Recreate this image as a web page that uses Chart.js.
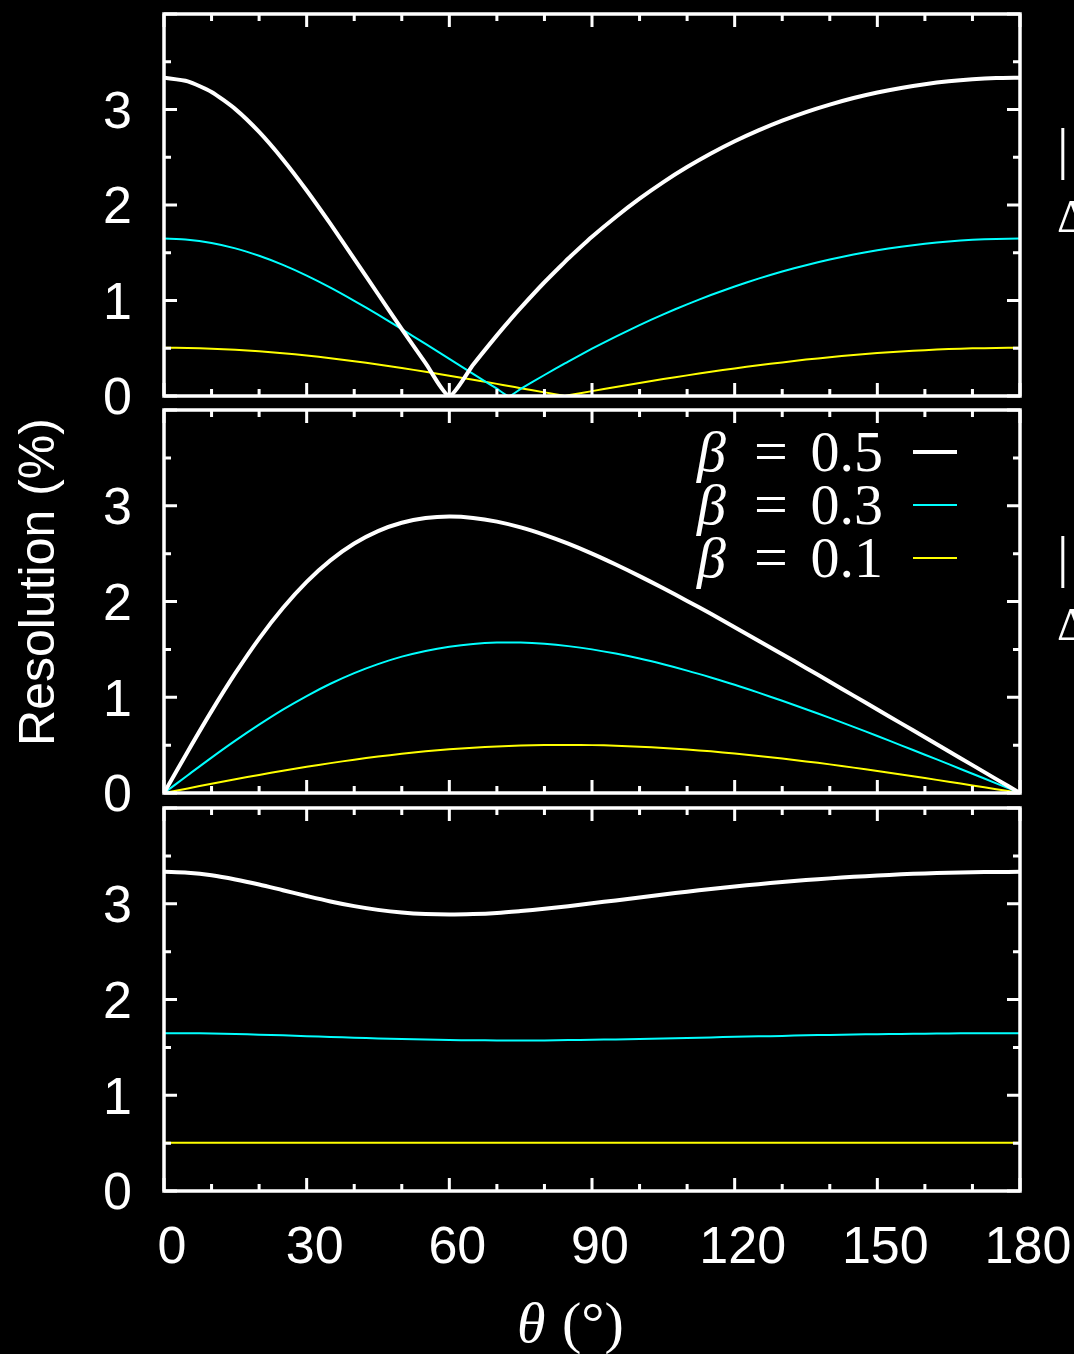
<!DOCTYPE html>
<html>
<head>
<meta charset="utf-8">
<script src="https://cdn.jsdelivr.net/npm/chart.js@4.4.1/dist/chart.umd.min.js"></script>
<style>
html, body { margin: 0; padding: 0; background: #000; }
#wrap { position: relative; width: 1074px; height: 1354px; overflow: hidden; background: #000; }
#wrap canvas { position: absolute; left: 0; top: 0; }
</style>
</head>
<body>
<div id="wrap">
  <canvas id="c1" width="1074" height="1354"></canvas>
  <canvas id="c2" width="1074" height="1354"></canvas>
  <canvas id="c3" width="1074" height="1354"></canvas>
</div>
<script>
// theta (deg); top panel has extra points where the curves touch zero
var thetaTop = [0,5,10,15,20,25,30,35,40,45,50,55,60,65,70,72.5,75,80,84.3,85,90,
    95,100,105,110,115,120,125,130,135,140,145,150,155,160,165,170,175,180];
var theta = [0,5,10,15,20,25,30,35,40,45,50,55,60,65,70,75,80,85,90,
    95,100,105,110,115,120,125,130,135,140,145,150,155,160,165,170,175,180];

var betaLabels = ['0.5', '0.3', '0.1'];
var yTickLabels = [0, 1, 2, 3];

// top panel
var top05 = [3.333,3.295,3.184,3.004,2.765,2.477,2.152,1.802,1.437,1.068,0.701,0.344,0,0.327,0.635,0.782,0.923,1.191,1.405,1.439,1.667,
    1.875,2.066,2.240,2.397,2.539,2.667,2.781,2.883,2.973,3.051,3.120,3.178,3.226,3.265,3.295,3.316,3.329,3.333];
var top03 = [1.648,1.637,1.602,1.546,1.468,1.373,1.261,1.135,0.997,0.852,0.700,0.545,0.388,0.231,0.077,0,0.074,0.220,0.341,0.360,0.495,
    0.622,0.742,0.855,0.960,1.057,1.147,1.229,1.303,1.370,1.429,1.481,1.526,1.563,1.594,1.618,1.635,1.645,1.648];
var top01 = [0.505,0.503,0.496,0.484,0.468,0.448,0.424,0.396,0.364,0.330,0.293,0.254,0.213,0.170,0.127,0.105,0.082,0.038,0,0.007,0.051,
    0.094,0.136,0.177,0.216,0.253,0.289,0.322,0.352,0.381,0.406,0.429,0.449,0.466,0.480,0.491,0.499,0.503,0.505];

// middle panel
var mid05 = [0,0.434,0.855,1.251,1.613,1.932,2.205,2.429,2.605,2.735,2.822,2.871,2.887,2.873,2.834,2.774,2.696,2.604,2.500,
    2.386,2.265,2.138,2.006,1.871,1.732,1.591,1.449,1.306,1.162,1.017,0.872,0.727,0.582,0.436,0.291,0.145,0];
var mid03 = [0,0.186,0.370,0.547,0.714,0.871,1.013,1.141,1.252,1.346,1.424,1.484,1.528,1.557,1.571,1.571,1.558,1.534,1.500,
    1.456,1.404,1.344,1.278,1.206,1.130,1.048,0.963,0.875,0.784,0.691,0.595,0.498,0.400,0.301,0.201,0.101,0];
var mid01 = [0,0.048,0.096,0.143,0.189,0.232,0.274,0.312,0.348,0.380,0.409,0.435,0.456,0.473,0.486,0.496,0.501,0.502,0.500,
    0.494,0.484,0.471,0.454,0.435,0.412,0.387,0.360,0.330,0.299,0.265,0.230,0.194,0.156,0.118,0.079,0.040,0];

// bottom panel
var bot05 = [3.333,3.323,3.297,3.254,3.201,3.141,3.081,3.024,2.975,2.936,2.908,2.892,2.887,2.892,2.904,2.924,2.947,2.975,3.005,
    3.035,3.066,3.097,3.126,3.154,3.180,3.204,3.227,3.247,3.265,3.281,3.295,3.307,3.317,3.324,3.329,3.332,3.333];
var bot03 = [1.648,1.648,1.644,1.640,1.632,1.626,1.617,1.609,1.601,1.593,1.587,1.581,1.577,1.574,1.573,1.573,1.573,1.576,1.580,
    1.583,1.588,1.593,1.598,1.604,1.610,1.615,1.620,1.626,1.630,1.634,1.638,1.640,1.643,1.646,1.647,1.648,1.648];
var bot01 = [0.505,0.505,0.505,0.505,0.505,0.504,0.505,0.504,0.504,0.503,0.503,0.503,0.503,0.503,0.503,0.503,0.503,0.503,0.503,
    0.503,0.503,0.503,0.503,0.503,0.503,0.503,0.504,0.504,0.504,0.504,0.504,0.505,0.505,0.505,0.505,0.505,0.505];

var COLORS = ['#ffffff', '#00ffff', '#ffff00'];
var WIDTHS = [4, 2, 2];
var SANS = "'Liberation Sans', Arial, Helvetica, sans-serif";
var SERIF = "'Liberation Serif', 'Times New Roman', serif";

// frame with inward ticks on all four sides, plus the extra text of each panel
var decor = {
    id: 'decor',
    afterDraw: function(chart) {
        var ctx = chart.ctx;
        var a = chart.chartArea;
        var xs = chart.scales.x, ys = chart.scales.y;
        var panel = chart.options.plugins.decor.panel;
        ctx.save();
        ctx.strokeStyle = '#fff';
        ctx.lineWidth = 3;
        ctx.beginPath();
        for (var v = 0; v <= 180; v += 10) {
            var px = xs.getPixelForValue(v);
            var len = v % 30 === 0 ? 13 : 7;
            ctx.moveTo(px, a.bottom); ctx.lineTo(px, a.bottom - len);
            ctx.moveTo(px, a.top); ctx.lineTo(px, a.top + len);
        }
        for (var w = 0; w <= 4; w += 0.5) {
            var py = ys.getPixelForValue(w);
            var l2 = w % 1 === 0 ? 13 : 7;
            ctx.moveTo(a.left, py); ctx.lineTo(a.left + l2, py);
            ctx.moveTo(a.right, py); ctx.lineTo(a.right - l2, py);
        }
        ctx.stroke();
        ctx.lineWidth = 3.5;
        ctx.strokeRect(a.left, a.top, a.right - a.left, a.bottom - a.top);

        ctx.fillStyle = '#fff';
        ctx.textBaseline = 'alphabetic';
        if (panel === 1 || panel === 2) {
            var off = panel === 1 ? 0 : 408;
            ctx.textAlign = 'left';
            ctx.font = '58px ' + SERIF;
            ctx.fillText('|', 1057, 168 + off);
            ctx.font = '47px ' + SERIF;
            ctx.fillText('\u0394', 1057, 232 + off);
        }
        if (panel === 2) {
            // legend
            for (var i = 0; i < betaLabels.length; i++) {
                var ly = 452 + i * 53;
                var base = ly + 19;
                ctx.font = 'italic 58px ' + SERIF;
                ctx.textAlign = 'left';
                ctx.fillText('\u03b2', 697, base);
                ctx.font = '60px ' + SERIF;
                ctx.textAlign = 'center';
                ctx.fillText('=', 771, base);
                ctx.font = '58px ' + SERIF;
                ctx.textAlign = 'right';
                ctx.fillText(betaLabels[i], 883, base);
                ctx.strokeStyle = COLORS[i];
                ctx.lineWidth = WIDTHS[i];
                ctx.beginPath();
                ctx.moveTo(913, ly); ctx.lineTo(957, ly);
                ctx.stroke();
            }
            // y title across the three panels
            ctx.save();
            ctx.translate(54, 582);
            ctx.rotate(-Math.PI / 2);
            ctx.textAlign = 'center';
            ctx.font = '50px ' + SANS;
            ctx.fillText('Resolution (%)', 0, 0);
            ctx.restore();
        }
        if (panel === 3) {
            ctx.textAlign = 'left';
            ctx.font = 'italic 58px ' + SERIF;
            ctx.fillText('\u03b8', 517, 1342);
            ctx.font = '58px ' + SERIF;
            ctx.fillText('(\u00b0)', 562, 1342);
        }
        ctx.restore();
    }
};

function makePanel(id, panel, xs, series, top, bottom, tension, showX) {
    var datasets = series.map(function(ys, i) {
        return {
            label: '\u03b2 = ' + betaLabels[i],
            data: xs.map(function(x, j) { return {x: x, y: ys[j]}; }),
            borderColor: COLORS[i],
            borderWidth: WIDTHS[i],
            pointRadius: 0,
            tension: tension,
            fill: false
        };
    });
    return new Chart(document.getElementById(id), {
        type: 'line',
        data: {datasets: datasets},
        options: {
            responsive: false,
            animation: false,
            events: [],
            layout: {padding: {left: 0, right: 54, top: top,
                bottom: 1354 - bottom - (showX ? 163 : 0)}},
            plugins: {legend: {display: false}, tooltip: {enabled: false}, decor: {panel: panel}},
            scales: {
                x: {
                    type: 'linear', min: 0, max: 180, display: showX,
                    afterFit: function(s) {
                        s.height = showX ? 163 : 0;
                        s.paddingLeft = 0; s.paddingRight = 0;
                    },
                    grid: {display: false, drawTicks: false},
                    border: {display: false},
                    ticks: {stepSize: 30, autoSkip: false, maxRotation: 0, color: '#fff',
                        font: {family: SANS, size: 52}, labelOffset: 8, padding: 26}
                },
                y: {
                    min: 0, max: 4,
                    afterFit: function(s) {
                        s.width = 164;
                        s.paddingTop = 0; s.paddingBottom = 0;
                    },
                    grid: {display: false, drawTicks: false},
                    border: {display: false},
                    ticks: {stepSize: 1, color: '#fff', font: {family: SANS, size: 52}, padding: 32,
                        labelOffset: 4,
                        callback: function(v) { return yTickLabels.indexOf(v) >= 0 ? String(v) : ''; }}
                }
            }
        },
        plugins: [decor]
    });
}

makePanel('c1', 1, thetaTop, [top05, top03, top01], 14, 396, 0.2, false);
makePanel('c2', 2, theta, [mid05, mid03, mid01], 410, 793, 0.3, false);
makePanel('c3', 3, theta, [bot05, bot03, bot01], 808, 1191, 0.3, true);
</script>
</body>
</html>
